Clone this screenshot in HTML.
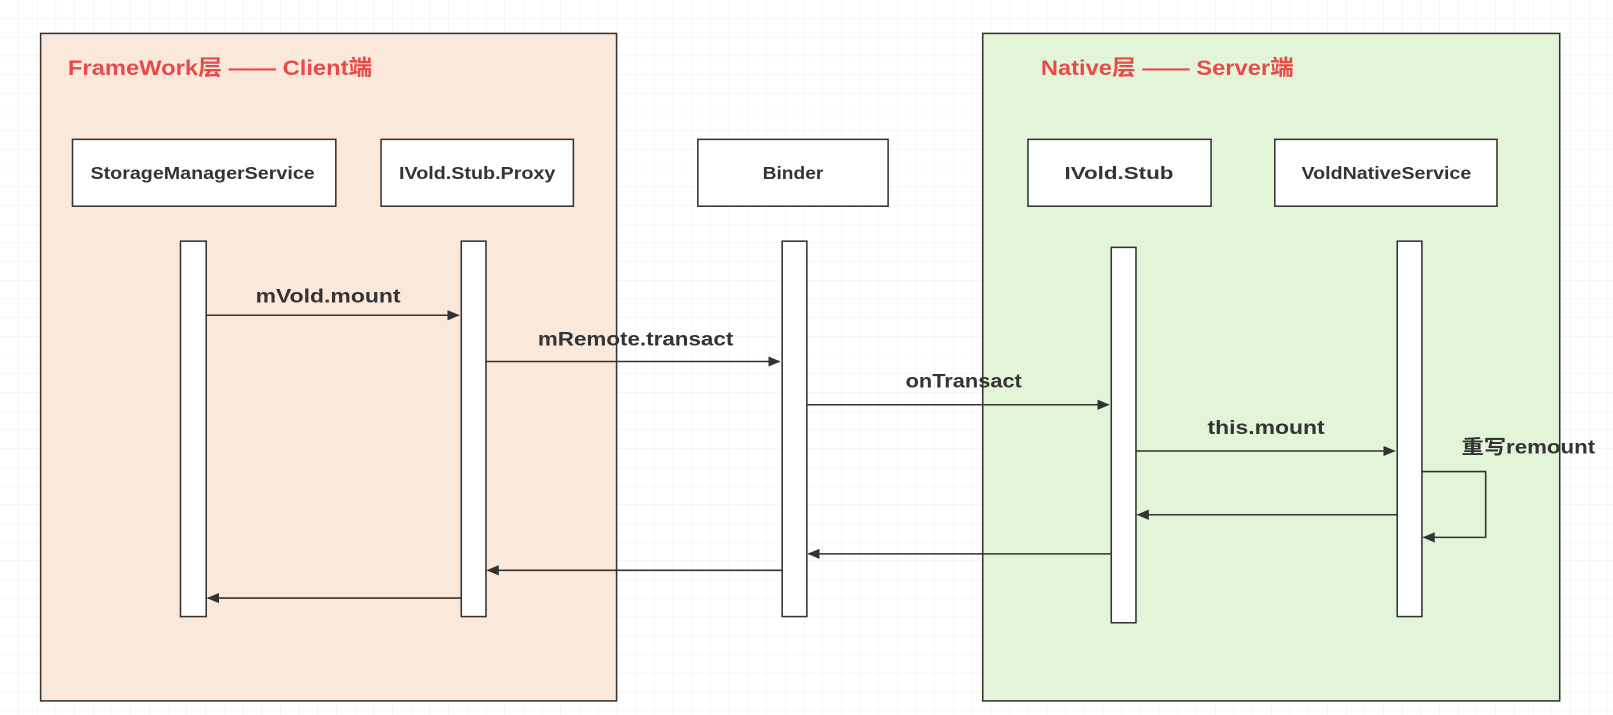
<!DOCTYPE html>
<html><head><meta charset="utf-8"><style>
html,body{margin:0;padding:0;background:#fff;}
svg{display:block;}
text{font-family:"Liberation Sans","Noto Sans CJK SC",sans-serif;font-weight:bold;fill:#333;}
</style></head><body>
<svg width="1613" height="715" viewBox="0 0 1613 715" xmlns="http://www.w3.org/2000/svg">
<defs>
<pattern id="g" width="18.7" height="18.7" patternUnits="userSpaceOnUse" x="0" y="0">
<path d="M18.7 0V18.7M0 18.7H18.7" fill="none" stroke="#ececec" stroke-width="1"/>
</pattern>
<marker id="a" markerWidth="12" markerHeight="10" refX="11" refY="5" orient="auto" markerUnits="userSpaceOnUse">
<path d="M0 0L12 5L0 10Z" fill="#333"/>
</marker>
</defs>
<rect width="1613" height="715" fill="url(#g)"/>
<g transform="scale(1.0285)">
<rect x="39.5" y="32.5" width="560" height="649" fill="#fae8da" stroke="#333" stroke-width="1.5"/>
<rect x="955.5" y="32.5" width="561" height="649" fill="#e3f5d9" stroke="#333" stroke-width="1.5"/>
<text x="66" y="73" font-size="21" textLength="296" lengthAdjust="spacingAndGlyphs" style="fill:#e84a4a">FrameWork层 —— Client端</text>
<text x="1012" y="73" font-size="21" textLength="246" lengthAdjust="spacingAndGlyphs" style="fill:#e84a4a">Native层 —— Server端</text>
<g fill="#fff" stroke="#333" stroke-width="1.5">
<rect x="70.5" y="135.5" width="256" height="65"/>
<rect x="370.5" y="135.5" width="187" height="65"/>
<rect x="678.5" y="135.5" width="185" height="65"/>
<rect x="999.5" y="135.5" width="178" height="65"/>
<rect x="1239.5" y="135.5" width="216" height="65"/>
<rect x="175.5" y="234.5" width="25" height="365"/>
<rect x="448.5" y="234.5" width="24" height="365"/>
<rect x="760.5" y="234.5" width="24" height="365"/>
<rect x="1080.5" y="240.5" width="24" height="365"/>
<rect x="1358.5" y="234.5" width="24" height="365"/>
</g>
<g font-size="17" text-anchor="middle" lengthAdjust="spacingAndGlyphs">
<text x="197" y="174" textLength="218" lengthAdjust="spacingAndGlyphs">StorageManagerService</text>
<text x="464" y="174" textLength="152" lengthAdjust="spacingAndGlyphs">IVold.Stub.Proxy</text>
<text x="771" y="174" textLength="59" lengthAdjust="spacingAndGlyphs">Binder</text>
<text x="1088" y="174" textLength="106" lengthAdjust="spacingAndGlyphs">IVold.Stub</text>
<text x="1348" y="174" textLength="165" lengthAdjust="spacingAndGlyphs">VoldNativeService</text>
</g>
<g stroke="#333" stroke-width="1.5" fill="none" marker-end="url(#a)">
<path d="M201 306.5H446"/>
<path d="M473 351.5H758"/>
<path d="M785 393.5H1078"/>
<path d="M1105 438.5H1356"/>
<path d="M1358 500.5H1106"/>
<path d="M1080 538.5H786"/>
<path d="M760 554.5H474"/>
<path d="M448 581.5H202"/>
<path d="M1383 458.5H1444.5V522.5H1384"/>
</g>
<g font-size="19" text-anchor="middle">
<text x="319" y="294" textLength="141" lengthAdjust="spacingAndGlyphs">mVold.mount</text>
<text x="618" y="336" textLength="190" lengthAdjust="spacingAndGlyphs">mRemote.transact</text>
<text x="937" y="377" textLength="113" lengthAdjust="spacingAndGlyphs">onTransact</text>
<text x="1231" y="422" textLength="114" lengthAdjust="spacingAndGlyphs">this.mount</text>
<text x="1486" y="441" textLength="130" lengthAdjust="spacingAndGlyphs">重写remount</text>
</g>
</g>
</svg>
</body></html>
